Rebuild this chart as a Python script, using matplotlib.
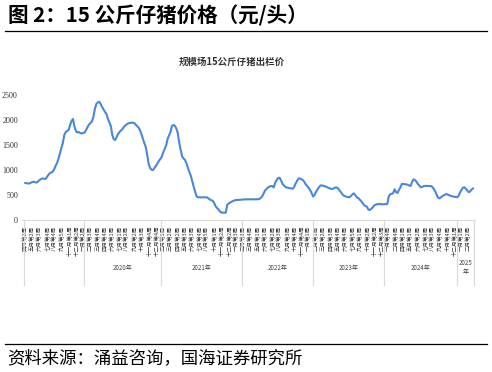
import numpy as np
import matplotlib
matplotlib.use('Agg')
import matplotlib.pyplot as plt

plt.rcParams['font.family'] = ['Noto Sans CJK SC', 'DejaVu Sans']

# weekly price of 15 kg piglets, yuan/head, week 0 = 2019-04 week 2
price = [
    740, 735, 732, 730, 745, 760, 765, 755, 748, 775,
    800, 815, 833, 825, 820, 855, 900, 935, 950, 965,
    1010, 1080, 1140, 1220, 1330, 1440, 1540, 1700, 1760, 1780,
    1800, 1900, 1980, 2020, 1870, 1780, 1750, 1760, 1740, 1730,
    1740, 1750, 1800, 1860, 1910, 1940, 1970, 2060, 2220, 2320,
    2350, 2367, 2320, 2260, 2210, 2160, 2120, 2020, 1950, 1880,
    1700, 1615, 1600, 1660, 1720, 1760, 1790, 1820, 1865, 1890,
    1915, 1933, 1940, 1945, 1947, 1940, 1910, 1880, 1850, 1800,
    1720, 1630, 1540, 1460, 1300, 1120, 1040, 1005, 1000, 1040,
    1080, 1130, 1180, 1220, 1265, 1350, 1420, 1490, 1620, 1690,
    1760, 1880, 1900, 1885, 1830, 1740, 1550, 1400, 1270, 1230,
    1200, 1130, 1040, 960, 880, 770, 660, 560, 470, 455,
    453, 453, 453, 453, 453, 453, 435, 410, 395, 387,
    340, 275, 240, 210, 170, 150, 147, 147, 147, 300,
    330, 350, 365, 380, 390, 400, 400, 402, 405, 410,
    413, 413, 413, 412, 412, 412, 413, 413, 413, 414,
    415, 420, 440, 470, 530, 590, 620, 650, 670, 675,
    680, 650, 750, 800, 840, 845, 790, 720, 690, 660,
    650, 640, 635, 628, 627, 660, 730, 780, 830, 830,
    815, 800, 760, 710, 680, 640, 600, 540, 470, 500,
    560, 610, 650, 690, 693, 685, 675, 665, 650, 640,
    625, 620, 630, 645, 653, 635, 600, 560, 520, 490,
    475, 465, 458, 455, 480, 510, 533, 500, 455, 440,
    410, 380, 340, 300, 280, 265, 210, 200, 225, 250,
    290, 305, 315, 320, 318, 315, 313, 315, 318, 320,
    470, 510, 525, 535, 613, 560, 540, 600, 650, 720,
    720, 715, 713, 705, 690, 680, 760, 813, 800, 770,
    720, 690, 655, 660, 680, 682, 682, 680, 680, 680,
    660, 620, 570, 500, 445, 433, 455, 480, 495, 515,
    515, 500, 490, 480, 470, 465, 460, 455, 480, 547,
    600, 645, 655, 625, 590, 555, 575, 610, 633,
]

# one label every 5 weeks
week_labels = [
    '四月第2周', '五月第2周', '六月第3周', '七月第4周', '八月第4周', '九月第5周',
    '十一月第1周', '十二月第2周',
    '一月第2周', '二月第3周', '三月第4周', '四月第4周', '六月第1周', '七月第1周',
    '八月第2周', '九月第2周', '十月第3周', '十一月第4周', '十二月第4周',
    '二月第1周', '三月第2周', '四月第2周', '五月第3周', '六月第3周', '七月第4周',
    '八月第5周', '十月第1周', '十一月第2周', '十二月第2周',
    '一月第3周', '二月第3周', '三月第4周', '五月第1周', '六月第1周', '七月第2周',
    '八月第3周', '九月第3周', '十月第4周', '十一月第4周',
    '一月第1周', '二月第1周', '三月第2周', '四月第3周', '五月第4周', '六月第4周',
    '七月第5周', '九月第1周', '十月第2周', '十一月第2周', '十二月第3周',
    '一月第4周', '二月第4周', '四月第1周', '五月第1周', '六月第2周', '七月第3周',
    '八月第3周', '九月第4周', '十月第4周', '十二月第1周',
    '一月第1周', '二月第2周',
]
label_step = 5

years = ['2020年', '2021年', '2022年', '2023年', '2024年', '2025\n年']
year_bounds = [-0.5, 40.5, 93.5, 149, 198, 246.5, 297, 308.5]

fig = plt.figure(figsize=(4.92, 3.72), dpi=100)
ax = fig.add_axes([22/492, 1 - 220/372, 453/492, 125/372])

x = np.arange(len(price))
ax.plot(x, price, color='#4A86DA', lw=1.5, solid_capstyle='round')

ax.set_xlim(-2.06, 309.3)
ax.set_ylim(0, 2500)
ax.set_yticks(range(0, 2501, 500))
ax.tick_params(axis='y', length=0, pad=3, labelsize=5.8, labelcolor='#333333')
for t in ax.get_yticklabels():
    t.set_fontfamily(['Liberation Serif', 'DejaVu Serif'])

ax.set_xticks(x[::label_step][:len(week_labels)])
ax.set_xticklabels(week_labels, rotation=90, fontsize=4.0, color='#3A3A3A')
ax.tick_params(axis='x', length=0, pad=4)

for s in ['top', 'right', 'left']:
    ax.spines[s].set_visible(False)
ax.spines['bottom'].set_color('#D9D9D9')
ax.spines['bottom'].set_linewidth(0.8)

tr = ax.get_xaxis_transform()
for b in year_bounds:
    ax.plot([b, b], [0, -0.52], transform=tr, color='#D9D9D9', lw=0.8, clip_on=False)
for i, yl in enumerate(years):
    c = (year_bounds[i + 1] + year_bounds[i + 2]) / 2
    ax.text(c, -0.38, yl, transform=tr, ha='center', va='center',
            fontsize=4.4, color='#444444', linespacing=1.3)

# headings and source
fig.text(8/492, 1 - 16/372, '图 2：15 公斤仔猪价格（元/头）', fontsize=14.8,
         fontweight='bold', va='center', ha='left')
fig.add_artist(plt.Line2D([5/492, 487/492], [1 - 31/372, 1 - 31/372], color='black', lw=0.9))
fig.text(232/492, 1 - 62/372, '规模场15公斤仔猪出栏价', fontsize=6.8,
         fontweight='bold', va='center', ha='center', color='#333333')
fig.add_artist(plt.Line2D([5/492, 487/492], [1 - 344/372, 1 - 344/372], color='black', lw=0.9))
fig.text(7/492, 1 - 358/372, '资料来源：涌益咨询，国海证券研究所', fontsize=12.5,
         va='center', ha='left', fontweight='light')

fig.savefig('out.png', dpi=100)
